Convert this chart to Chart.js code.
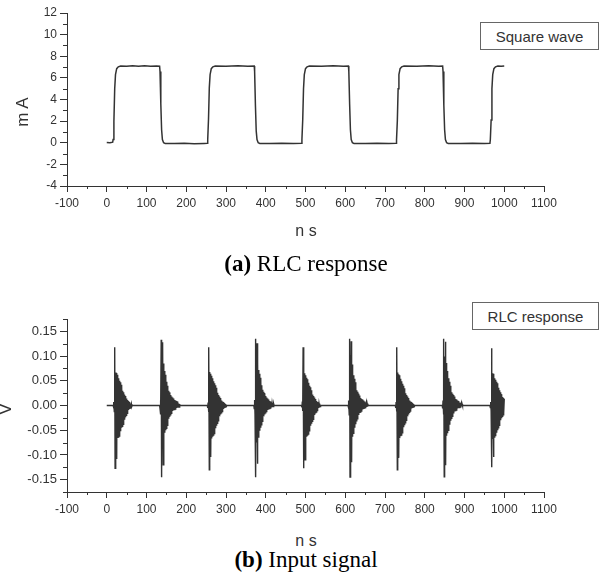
<!DOCTYPE html>
<html>
<head>
<meta charset="utf-8">
<script src="https://cdn.jsdelivr.net/npm/chart.js@4.4.1/dist/chart.umd.min.js"></script>
<style>
  html, body { margin: 0; padding: 0; background: #fff; }
  #wrap { position: relative; width: 599px; height: 576px; overflow: hidden;
          font-family: "Liberation Sans", Arial, sans-serif; color: #333; }
  canvas { position: absolute; left: 0; }
  .legend { position: absolute; box-sizing: border-box; border: 1px solid #666; background: #fff;
            display: flex; align-items: center; justify-content: center; font-size: 15px; color: #333; }
  .ytitle { position: absolute; transform: translate(-50%, -50%) rotate(-90deg); white-space: nowrap; font-size: 17px; }
  .xtitle { position: absolute; transform: translate(-50%, -50%); white-space: nowrap; font-size: 16px; }
  .caption { position: absolute; transform: translate(-50%, -50%); white-space: nowrap; color: #000;
             font-family: "Liberation Serif", "Times New Roman", serif; font-size: 23px; }
</style>
</head>
<body>
<div id="wrap">
  <canvas id="topChart" width="599" height="230" style="top:0"></canvas>
  <canvas id="bottomChart" width="599" height="230" style="top:300px"></canvas>

  <div class="legend" style="left:480px;top:22px;width:119px;height:28px">Square wave</div>
  <div class="legend" style="left:472px;top:302px;width:127px;height:28px">RLC response</div>

  <div class="ytitle" style="left:23px;top:112px">m A</div>
  <div class="xtitle" style="left:306px;top:231px">n s</div>
  <div class="caption" style="left:306px;top:264px"><b>(a)</b> RLC response</div>

  <div class="ytitle" style="left:6px;top:409px">V</div>
  <div class="xtitle" style="left:306px;top:541px">n s</div>
  <div class="caption" style="left:306px;top:560px"><b>(b)</b> Input signal</div>
</div>

<script>
// ---- Square wave current (ns, mA) ----
const sqTime = [
  0, 8, 15, 16, 18, 20, 22, 25, 29, 35, 50, 65, 80, 95, 110, 125, 133,
  134, 136, 138, 140, 143, 147, 170, 195, 220, 245, 253,
  254, 256, 258, 260, 263, 267, 273, 300, 330, 355, 371,
  372, 374, 376, 378, 381, 385, 410, 440, 470, 490,
  491, 493, 495, 497, 500, 504, 510, 540, 570, 595, 608,
  609, 611, 613, 615, 618, 622, 650, 680, 710, 728,
  729, 731, 733, 735, 738, 742, 748, 780, 810, 835, 845,
  846, 848, 850, 852, 855, 859, 890, 920, 950, 964,
  965, 967, 969, 971, 974, 978, 984, 992, 1000
];
const sqCurrent = [
  0.02, 0.0, 0.05, 0.3, 2.0, 5.0, 6.3, 6.85, 7.02, 7.1, 7.08, 7.12, 7.07, 7.11, 7.08, 7.1, 7.08,
  6.6, 3.6, 1.2, 0.3, 0.0, -0.06, -0.08, -0.05, -0.09, -0.06, -0.05,
  0.3, 2.2, 5.1, 6.3, 6.85, 7.02, 7.1, 7.08, 7.12, 7.08, 7.1,
  6.6, 3.5, 1.1, 0.3, 0.0, -0.06, -0.08, -0.05, -0.08, -0.05,
  0.3, 2.1, 5.0, 6.3, 6.85, 7.02, 7.1, 7.08, 7.12, 7.08, 7.1,
  6.6, 3.6, 1.2, 0.3, 0.0, -0.06, -0.08, -0.05, -0.08, -0.05,
  0.3, 2.0, 5.0, 6.3, 6.85, 7.02, 7.1, 7.08, 7.12, 7.08, 7.1,
  6.6, 3.5, 1.2, 0.3, 0.0, -0.06, -0.08, -0.05, -0.08, -0.05,
  0.3, 2.1, 5.0, 6.3, 6.85, 7.02, 7.1, 7.08, 7.1
];

// ---- Ringing bursts (V), one sample per ns from each burst's start time ----
const burstStart = [17, 134, 254, 371, 491, 608, 727, 845, 965];
const burst1 = [-0.004, 0.007, -0.012, 0.118, -0.127, 0.067, -0.069, 0.066, -0.108, 0.062, -0.066, 0.053, -0.064, 0.055, -0.062, 0.05, -0.06, 0.047, -0.052, 0.042, -0.045, 0.039, -0.042, 0.03, -0.038, 0.027, -0.034, 0.022, -0.029, 0.019, -0.024, 0.016, -0.02, 0.014, -0.016, 0.011, -0.012, 0.009, -0.009, 0.007, -0.007, 0.006, -0.005, 0.004, -0.004, 0.003, -0.002];
const burst2 = [-0.006, 0.01, -0.018, 0.133, -0.145, 0.1, -0.072, 0.128, -0.12, 0.085, -0.062, 0.07, -0.055, 0.062, -0.05, 0.055, -0.046, 0.048, -0.04, 0.04, -0.03, 0.03, -0.027, 0.027, -0.023, 0.024, -0.019, 0.021, -0.016, 0.018, -0.013, 0.016, -0.011, 0.014, -0.009, 0.012, -0.008, 0.011, -0.007, 0.01, -0.006, 0.009, -0.005, 0.008, -0.004, 0.006, -0.003, 0.004, -0.003, 0.003];
const burst3 = [-0.005, 0.006, -0.013, 0.118, -0.13, 0.068, -0.07, 0.064, -0.104, 0.06, -0.067, 0.055, -0.063, 0.052, -0.06, 0.049, -0.057, 0.045, -0.05, 0.041, -0.046, 0.036, -0.041, 0.031, -0.036, 0.026, -0.031, 0.021, -0.027, 0.018, -0.022, 0.015, -0.018, 0.013, -0.015, 0.01, -0.012, 0.008, -0.009, 0.007, -0.007, 0.005, -0.005, 0.004, -0.003, 0.003, -0.002];
const burst4 = [-0.006, 0.011, -0.017, 0.135, -0.145, 0.098, -0.075, 0.126, -0.118, 0.088, -0.064, 0.072, -0.057, 0.064, -0.051, 0.056, -0.045, 0.049, -0.039, 0.041, -0.032, 0.032, -0.026, 0.028, -0.022, 0.025, -0.018, 0.022, -0.015, 0.019, -0.012, 0.016, -0.01, 0.014, -0.009, 0.012, -0.008, 0.011, -0.006, 0.009, -0.005, 0.008, -0.004, 0.006, -0.004, 0.005, -0.003, 0.004, -0.002, 0.003];
const burst5 = [-0.004, 0.008, -0.011, 0.118, -0.127, 0.066, -0.071, 0.065, -0.11, 0.061, -0.065, 0.056, -0.063, 0.053, -0.061, 0.048, -0.058, 0.046, -0.051, 0.04, -0.046, 0.037, -0.041, 0.031, -0.037, 0.026, -0.032, 0.022, -0.028, 0.019, -0.023, 0.016, -0.019, 0.013, -0.016, 0.011, -0.013, 0.009, -0.01, 0.007, -0.007, 0.006, -0.005, 0.004, -0.004, 0.003, -0.002];
const burst6 = [-0.005, 0.01, -0.019, 0.135, -0.145, 0.102, -0.07, 0.13, -0.115, 0.083, -0.063, 0.071, -0.056, 0.061, -0.049, 0.054, -0.045, 0.047, -0.038, 0.039, -0.031, 0.031, -0.027, 0.028, -0.022, 0.024, -0.019, 0.02, -0.015, 0.018, -0.013, 0.015, -0.011, 0.013, -0.009, 0.012, -0.008, 0.01, -0.007, 0.009, -0.005, 0.008, -0.004, 0.006, -0.003, 0.005, -0.003, 0.004, -0.002, 0.003];
const burst7 = [-0.005, 0.007, -0.012, 0.118, -0.13, 0.067, -0.068, 0.063, -0.106, 0.061, -0.066, 0.054, -0.062, 0.051, -0.06, 0.049, -0.055, 0.044, -0.05, 0.04, -0.044, 0.035, -0.04, 0.03, -0.035, 0.025, -0.03, 0.021, -0.026, 0.018, -0.022, 0.015, -0.018, 0.012, -0.014, 0.01, -0.011, 0.008, -0.009, 0.007, -0.006, 0.005, -0.005, 0.004, -0.003, 0.003, -0.002];
const burst8 = [-0.006, 0.01, -0.018, 0.135, -0.144, 0.099, -0.073, 0.129, -0.121, 0.086, -0.061, 0.07, -0.056, 0.063, -0.05, 0.055, -0.044, 0.048, -0.039, 0.04, -0.031, 0.031, -0.026, 0.027, -0.022, 0.024, -0.018, 0.021, -0.016, 0.018, -0.012, 0.015, -0.01, 0.013, -0.009, 0.012, -0.007, 0.01, -0.006, 0.009, -0.005, 0.007, -0.004, 0.006, -0.003, 0.005, -0.003, 0.004, -0.002, 0.003];
const burst9 = [-0.004, 0.007, -0.011, 0.116, -0.125, 0.065, -0.068, 0.064, -0.104, 0.06, -0.064, 0.055, -0.061, 0.052, -0.059, 0.048, -0.055, 0.045, -0.05, 0.04, -0.045, 0.036, -0.04, 0.031, -0.035, 0.027, -0.03, 0.023, -0.026, 0.02, -0.022, 0.017, -0.019, 0.015, -0.016, 0.013];
const bursts = [burst1, burst2, burst3, burst4, burst5, burst6, burst7, burst8, burst9];
const sampleStep = 1; // ns

// ---- Axis ticks ----
const timeTicks = [-100, 0, 100, 200, 300, 400, 500, 600, 700, 800, 900, 1000, 1100];
const currentTicks = [-4, -2, 0, 2, 4, 6, 8, 10, 12];
const voltTicks = [-0.15, -0.10, -0.05, 0.00, 0.05, 0.10, 0.15];

// build the point lists
const squarePoints = sqTime.map((t, i) => ({ x: t, y: sqCurrent[i] }));
const ringPoints = [{ x: 0, y: 0 }];
bursts.forEach((b, i) => {
  const t0 = burstStart[i];
  ringPoints.push({ x: t0 - sampleStep, y: 0 });
  b.forEach((v, j) => ringPoints.push({ x: t0 + j * sampleStep, y: v }));
  if (i < bursts.length - 1) ringPoints.push({ x: t0 + b.length * sampleStep, y: 0 });
});

const INK = '#333';

// short unlabeled ticks halfway between the labelled ones
const minorTicks = {
  id: 'minorTicks',
  afterDraw(chart, args, opts) {
    const { ctx } = chart;
    const xs = chart.scales.x, ys = chart.scales.y;
    ctx.save();
    ctx.strokeStyle = INK;
    ctx.lineWidth = 1;
    ctx.beginPath();
    const halves = (scale, step) => {
      const out = [];
      const k0 = Math.ceil(scale.min / step - 1e-6), k1 = Math.floor(scale.max / step + 1e-6);
      for (let k = k0; k <= k1; k++) if (Math.abs(k) % 2 === 1) out.push(k * step);
      return out;
    };
    halves(xs, opts.xHalf).forEach(v => {
      const p = Math.round(xs.getPixelForValue(v)) + 0.5;
      ctx.moveTo(p, ys.bottom); ctx.lineTo(p, ys.bottom + opts.xLen);
    });
    halves(ys, opts.yHalf).forEach(v => {
      const p = Math.round(ys.getPixelForValue(v)) + 0.5;
      ctx.moveTo(xs.left, p); ctx.lineTo(xs.left - opts.yLen, p);
    });
    ctx.stroke();
    ctx.restore();
  }
};

function makeChart(id, points, yMin, yMax, yTickValues, yFontSize, yFormat, pad, xHeight, yHalf, lineWidth) {
  return new Chart(document.getElementById(id), {
    type: 'line',
    data: {
      datasets: [{
        data: points,
        borderColor: INK,
        borderWidth: lineWidth,
        pointRadius: 0,
        tension: 0,
        fill: false
      }]
    },
    options: {
      responsive: false,
      animation: false,
      layout: { padding: pad },
      plugins: {
        legend: { display: false },
        tooltip: { enabled: false },
        minorTicks: { xHalf: 50, yHalf: yHalf, xLen: 3, yLen: 4 }
      },
      scales: {
        x: {
          type: 'linear',
          min: -100, max: 1100,
          afterBuildTicks: s => { s.ticks = timeTicks.map(v => ({ value: v })); },
          afterFit: s => { s.height = xHeight; },
          grid: { drawOnChartArea: false, drawTicks: true, tickLength: 6, color: INK },
          border: { display: true, color: INK, width: 1 },
          ticks: { color: INK, padding: 4, maxRotation: 0, autoSkip: false,
                   font: { family: 'Liberation Sans, Arial, sans-serif', size: 12 },
                   callback: v => String(v) }
        },
        y: {
          type: 'linear',
          min: yMin, max: yMax,
          afterBuildTicks: s => { s.ticks = yTickValues.map(v => ({ value: v })); },
          afterFit: s => { s.width = 67; },
          grid: { drawOnChartArea: false, drawTicks: true, tickLength: 7, color: INK },
          border: { display: true, color: INK, width: 1 },
          ticks: { color: INK, padding: 3, autoSkip: false,
                   font: { family: 'Liberation Sans, Arial, sans-serif', size: yFontSize },
                   callback: yFormat }
        }
      }
    },
    plugins: [minorTicks]
  });
}

makeChart('topChart', squarePoints, -4, 12, currentTicks, 12, v => String(v),
          { top: 13, right: 55, bottom: 0, left: 0 }, 44, 1, 1.5);

makeChart('bottomChart', ringPoints, -0.175, 0.175, voltTicks, 13,
          v => (Math.abs(v) < 1e-9 ? 0 : v).toFixed(2),
          { top: 19, right: 55, bottom: 0, left: 0 }, 38, 0.025, 1.4);
</script>
</body>
</html>
